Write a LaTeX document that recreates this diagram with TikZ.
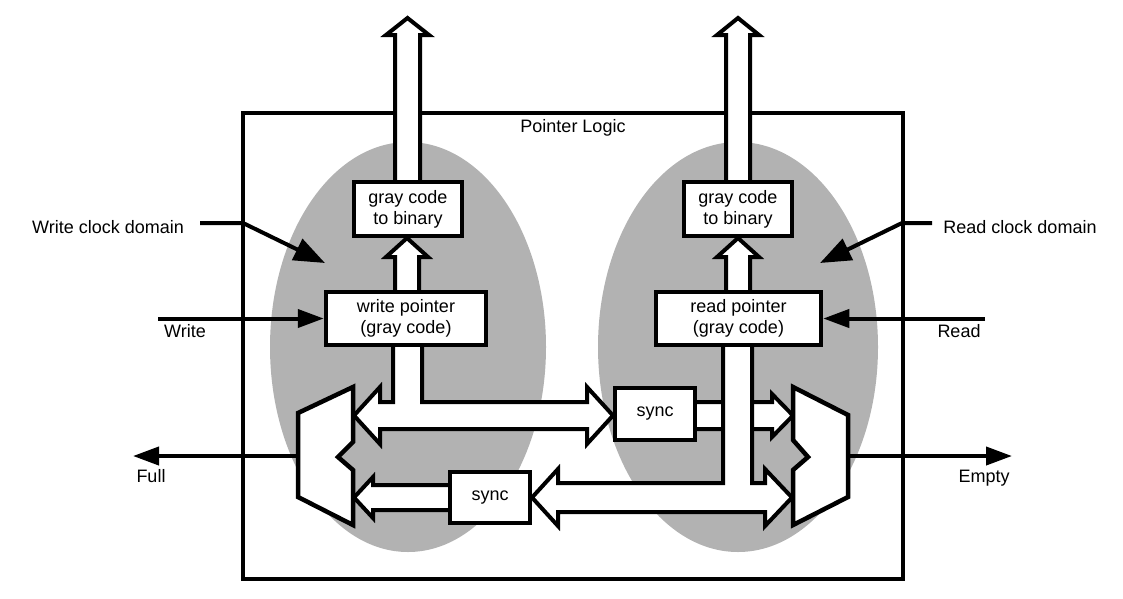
\documentclass[tikz,border=0pt]{standalone}
\usepackage{fontspec}
\setmainfont{Liberation Sans}
\usetikzlibrary{arrows.meta}
\begin{document}
\begin{tikzpicture}[x=1pt,y=-1pt,
  lbl/.style={font=\fontsize{18}{21}\selectfont, inner sep=0pt, anchor=base},
  blk/.style={draw, fill=white, line width=4.5pt, align=center, inner sep=0pt,
              font=\fontsize{18}{21}\selectfont},
  fat/.style={draw, fill=white, line width=4pt, line join=miter},
  muxs/.style={draw, fill=white, line width=4.5pt, line join=miter},
  thin/.style={line width=4pt, -{Triangle[length=26pt,width=18pt]}},
  dom/.style={line width=4pt, line join=miter, -{Triangle[length=31pt,width=23pt]}},
  zone/.style={fill=black!30}]
\useasboundingbox (0,0) rectangle (1123,598);

% frame
\node[draw, line width=4.5pt, minimum width=660pt, minimum height=466pt, inner sep=0pt] (frame) at (573,346) {};
\node[lbl] (ptr) at (573,132) {Pointer Logic};

% clock domains
\fill[zone] (408,347) ellipse [x radius=138pt, y radius=205pt];
\fill[zone] (738,347) ellipse [x radius=140pt, y radius=205pt];

% outside labels
\node[lbl] (wcd) at (108,233) {Write clock domain};
\node[lbl] (rcd) at (1020,233) {Read clock domain};
\node[lbl] (wr) at (185,337) {Write};
\node[lbl] (rd) at (959,337) {Read};
\node[lbl] (full) at (151,482) {Full};
\node[lbl] (empty) at (984,482) {Empty};

% wide bus arrows
\draw[fat] (395,182) -- (395,35) -- (386,35) -- (407.5,18) -- (429,35) -- (420,35) -- (420,182);
\draw[fat] (726,182) -- (726,35) -- (717,35) -- (738,18) -- (759,35) -- (750,35) -- (750,182);
\draw[fat] (395,292) -- (395,257) -- (386,257) -- (407,238) -- (428,257) -- (419,257) -- (419,292);
\draw[fat] (726,292) -- (726,257) -- (717,257) -- (738,238) -- (759,257) -- (750,257) -- (750,292);

\draw[fat] (393,345) -- (393,402) -- (380,402) -- (380,387) -- (354,415.5) -- (380,444) -- (380,429)
  -- (587,429) -- (587,444) -- (613,415.5) -- (587,387) -- (587,402) -- (422,402) -- (422,345);

\draw[fat] (695,402) -- (772,402) -- (772,394) -- (793,415.5) -- (772,437) -- (772,429) -- (695,429);

\draw[fat] (723,345) -- (723,483) -- (558,483) -- (558,469) -- (532,497.5) -- (558,526) -- (558,512)
  -- (765,512) -- (765,526) -- (792,497.5) -- (765,469) -- (765,483) -- (752,483) -- (752,345);

\draw[fat] (450,485) -- (373,485) -- (373,477) -- (354,497.5) -- (373,518) -- (373,510) -- (450,510);

% blocks
\node[blk, minimum width=108pt, minimum height=54pt] (g2bl) at (408,209) {gray code\\to binary};
\node[blk, minimum width=108pt, minimum height=54pt] (g2br) at (738,209) {gray code\\to binary};
\node[blk, minimum width=160pt, minimum height=53pt] (wp) at (406,318.5) {write pointer\\(gray code)};
\node[blk, minimum width=165pt, minimum height=53pt] (rp) at (738.5,318.5) {read pointer\\(gray code)};
\node[blk, minimum width=80pt, minimum height=52pt] (sync1) at (655,414) {sync};
\node[blk, minimum width=80pt, minimum height=51pt] (sync2) at (490,497.5) {sync};

% muxes
\draw[muxs] (353,387) -- (353,442) -- (338,457) -- (353,470) -- (353,525) -- (298,497) -- (298,413) -- cycle;
\draw[muxs] (793,387) -- (848,415) -- (848,497) -- (793,525) -- (793,470) -- (808,457) -- (793,440) -- cycle;

% control signals
\coordinate (wrin) at (158,318.5);
\coordinate (rdin) at (985,318.5);
\coordinate (lmuxout) at (298,456);
\coordinate (fulltip) at (133,456);
\coordinate (rmuxout) at (848,456);
\coordinate (emptytip) at (1012,456);
\draw[thin] (wrin) -- (wp.west);
\draw[thin] (rdin) -- (rp.east);
\draw[thin] (lmuxout) -- (fulltip);
\draw[thin] (rmuxout) -- (emptytip);

% domain pointers
\coordinate (wcdA) at (200,223);
\coordinate (wcdB) at (243,223);
\coordinate (wcdC) at (325,263);
\coordinate (rcdA) at (932,223);
\coordinate (rcdB) at (902,223);
\coordinate (rcdC) at (820,263);
\draw[dom] (wcdA) -- (wcdB) -- (wcdC);
\draw[dom] (rcdA) -- (rcdB) -- (rcdC);
\end{tikzpicture}
\end{document}
